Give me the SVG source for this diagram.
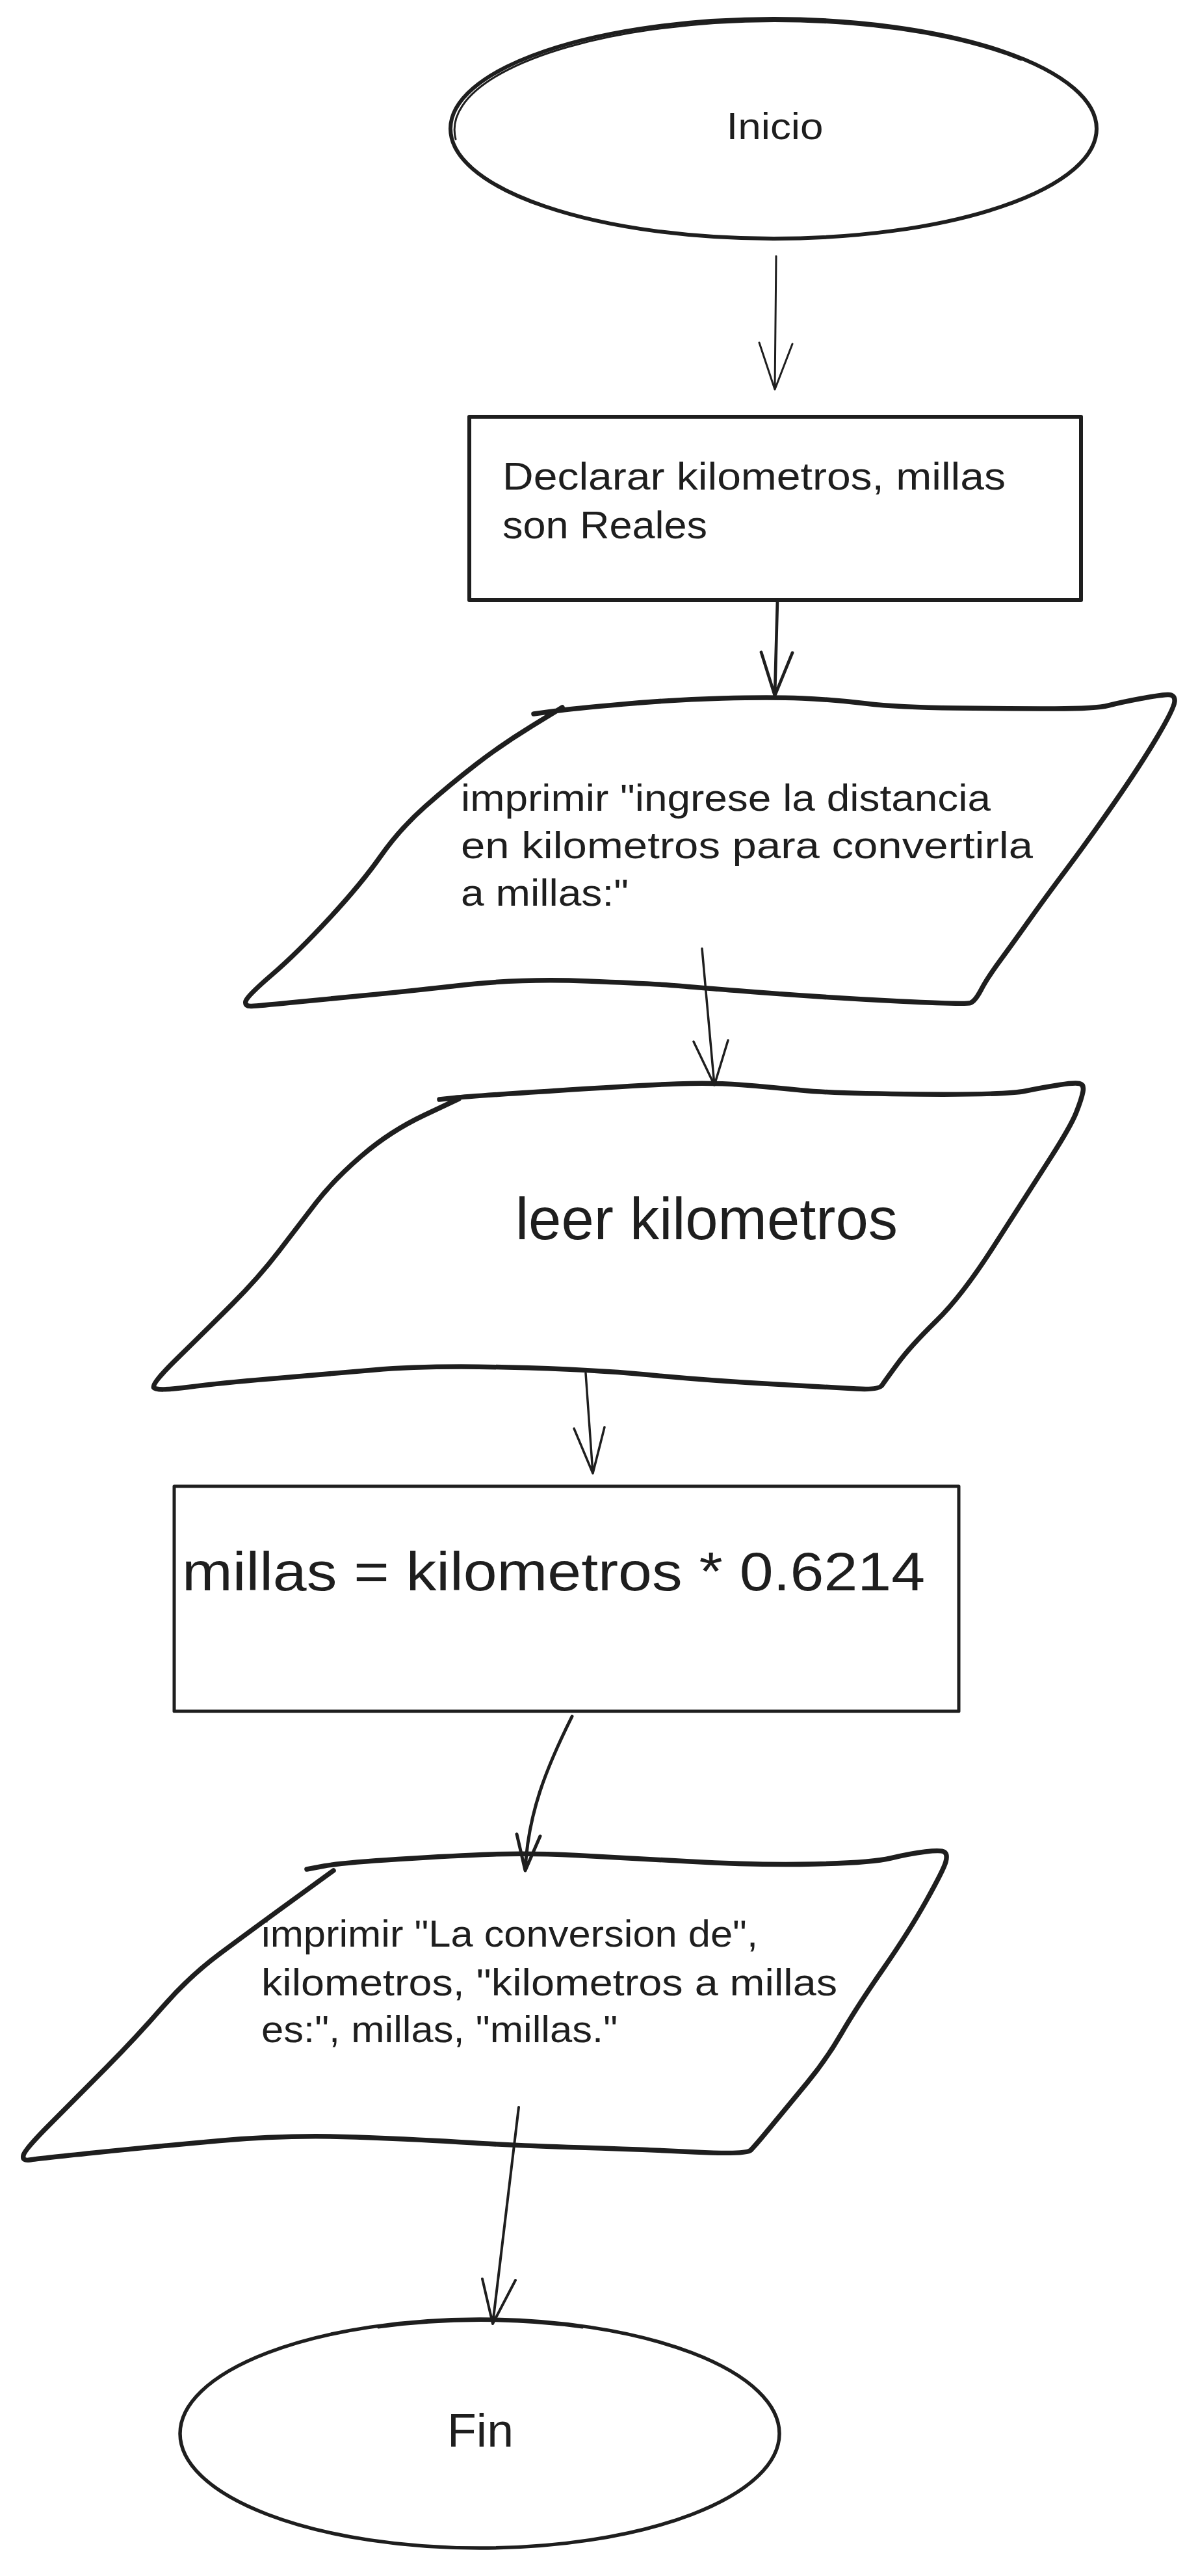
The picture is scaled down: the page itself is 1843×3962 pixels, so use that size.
<svg xmlns="http://www.w3.org/2000/svg" width="1843" height="3962" viewBox="0 0 1843 3962">
<style>
.shape{fill:none;stroke:#1e1e1e;stroke-linecap:round;stroke-linejoin:round}
.conn{fill:none;stroke:#1e1e1e;stroke-linecap:round;stroke-linejoin:round}
.t{font-family:"Liberation Sans","DejaVu Sans",sans-serif;fill:#1e1e1e}
</style>
<rect width="1843" height="3962" fill="#ffffff"/>
<g id="inicio">
<ellipse class="shape" cx="1190" cy="198" rx="497" ry="169" stroke-width="6"/>
<path class="shape" stroke-width="3" d="M 701,214 A 494 167 0 0 1 1571,92"/>
<text class="t" x="1192" y="214" font-size="58" text-anchor="middle" textLength="149" lengthAdjust="spacingAndGlyphs">Inicio</text>
</g>
<g id="declarar">
<rect class="shape" x="722" y="641" width="941" height="282" stroke-width="6"/>
<text class="t" font-size="60"><tspan x="773" y="753" textLength="774" lengthAdjust="spacingAndGlyphs">Declarar kilometros, millas</tspan><tspan x="773" y="828" textLength="315" lengthAdjust="spacingAndGlyphs">son Reales</tspan></text>
</g>
<g id="imprimir1">
<path class="shape" stroke-width="7.5" d="M 821,1098 L 850.5,1094 Q 880,1090 958.5,1083 Q 1037,1076 1111,1074 Q 1185,1072 1234,1074 Q 1283,1076 1332,1082 Q 1381,1088 1470.5,1089 Q 1560,1090 1623,1090 Q 1686,1090 1705.5,1085 Q 1725,1080 1754.5,1074.5 Q 1784,1069 1796,1068.5 Q 1808,1068 1807,1079 Q 1806,1090 1780.5,1133 Q 1755,1176 1715.5,1233 Q 1676,1290 1641.5,1336 Q 1607,1382 1582.5,1416.5 Q 1558,1451 1538.5,1477.5 Q 1519,1504 1509.5,1522 Q 1500,1540 1493,1542.5 Q 1486,1545 1384.5,1540 Q 1283,1535 1184.5,1527.5 Q 1086,1520 1047,1516.5 Q 1008,1513 904.5,1509 Q 801,1505 712.5,1515 Q 624,1525 560.5,1531 Q 497,1537 447.5,1542 Q 398,1547 387,1547.5 Q 376,1548 378,1540 Q 380,1532 418.5,1499 Q 457,1466 506.5,1412.5 Q 556,1359 585.5,1317 Q 615,1275 654,1240.5 Q 693,1206 732.5,1175.5 Q 772,1145 818.5,1116.5 L 865,1088"/>
<text class="t" font-size="58"><tspan x="709" y="1247" textLength="815" lengthAdjust="spacingAndGlyphs">imprimir "ingrese la distancia</tspan><tspan x="709" y="1320" textLength="880" lengthAdjust="spacingAndGlyphs">en kilometros para convertirla</tspan><tspan x="709" y="1393" textLength="258" lengthAdjust="spacingAndGlyphs">a millas:"</tspan></text>
</g>
<g id="leer">
<path class="shape" stroke-width="7.5" d="M 676,1691 L 699.5,1688.5 Q 723,1686 855.5,1677.5 Q 988,1669 1042,1667 Q 1096,1665 1140.5,1668.5 Q 1185,1672 1234,1677 Q 1283,1682 1415.5,1683 Q 1548,1684 1577.5,1678 Q 1607,1672 1630,1668.5 Q 1653,1665 1660.5,1666.5 Q 1668,1668 1666,1679 Q 1664,1690 1655.5,1711.5 Q 1647,1733 1612.5,1786.5 Q 1578,1840 1529,1916.5 Q 1480,1993 1440.5,2031.5 Q 1401,2070 1381.5,2096.5 Q 1362,2123 1357,2130.5 Q 1352,2138 1317.5,2136 Q 1283,2134 1184.5,2128.5 Q 1086,2123 997.5,2114.5 Q 909,2106 781.5,2103 Q 654,2100 575.5,2107 Q 497,2114 418,2120.5 Q 339,2127 289.5,2133.5 Q 240,2140 236.5,2134 Q 233,2128 274,2088 Q 315,2048 356.5,2006.5 Q 398,1965 429,1924.5 Q 460,1884 486.5,1849.5 Q 513,1815 556.5,1777.5 Q 600,1740 653,1715 L 706,1690"/>
<text class="t" x="793" y="1906" font-size="90" textLength="588" lengthAdjust="spacingAndGlyphs">leer kilometros</text>
</g>
<g id="calculo">
<rect class="shape" x="268" y="2286" width="1207" height="346" stroke-width="5"/>
<text class="t" x="280" y="2446" font-size="84" textLength="1143" lengthAdjust="spacingAndGlyphs">millas = kilometros * 0.6214</text>
</g>
<g id="imprimir2">
<path class="shape" stroke-width="7.5" d="M 472,2875 L 498.5,2870 Q 525,2865 612.5,2859.5 Q 700,2854 758,2852 Q 816,2850 886,2853.5 Q 956,2857 1061,2863 Q 1166,2869 1253.5,2867 Q 1341,2865 1370,2858 Q 1399,2851 1423.5,2848 Q 1448,2845 1453,2848.5 Q 1458,2852 1455,2863.5 Q 1452,2875 1425.5,2922.5 Q 1399,2970 1358.5,3028.5 Q 1318,3087 1294.5,3127.5 Q 1271,3168 1242,3203 Q 1213,3238 1187.5,3269 Q 1162,3300 1155,3307 Q 1148,3314 1069.5,3310 Q 991,3306 892,3303 Q 793,3300 723,3295.5 Q 653,3291 548,3287 Q 443,3283 338,3292.5 Q 233,3302 145.5,3311 Q 58,3320 46,3322 Q 34,3324 36,3315 Q 38,3306 77.5,3266.5 Q 117,3227 163.5,3180 Q 210,3133 250.5,3086.5 Q 291,3040 338,3005 Q 385,2970 449,2923.5 L 513,2877"/>
<text class="t" font-size="58"><tspan x="402" y="2994" textLength="764" lengthAdjust="spacingAndGlyphs">imprimir "La conversion de",</tspan><tspan x="402" y="3069" textLength="886" lengthAdjust="spacingAndGlyphs">kilometros, "kilometros a millas</tspan><tspan x="402" y="3141" textLength="548" lengthAdjust="spacingAndGlyphs">es:", millas, "millas."</tspan></text>
</g>
<g id="fin">
<ellipse class="shape" cx="738" cy="3743" rx="461" ry="176" stroke-width="5.5"/>
<path class="shape" stroke-width="3" d="M 582,3580 A 459 175 0 0 1 896,3580"/>
<text class="t" x="739" y="3763" font-size="72" text-anchor="middle" textLength="102" lengthAdjust="spacingAndGlyphs">Fin</text>
</g>
<g id="connectors">
<path class="conn" stroke-width="3" d="M 1194,394 L 1192,599 M 1168,527 L 1192,599 L 1219,529"/>
<path class="conn" stroke-width="4.7" d="M 1196,923 L 1192,1070 M 1171,1003 L 1192,1070 L 1219,1004"/>
<path class="conn" stroke-width="3.5" d="M 1080,1459 L 1099,1669 M 1067,1602 L 1099,1669 L 1120,1600"/>
<path class="conn" stroke-width="3.5" d="M 901,2112 L 912,2266 M 883,2197 L 912,2266 L 930,2195"/>
<path class="conn" stroke-width="5" d="M 880,2640 C 840,2720 812,2790 808,2877 M 795,2821 L 808,2877 L 831,2824"/>
<path class="conn" stroke-width="4" d="M 798,3241 L 758,3574 M 742,3505 L 758,3574 L 793,3507"/>
</g>
</svg>
